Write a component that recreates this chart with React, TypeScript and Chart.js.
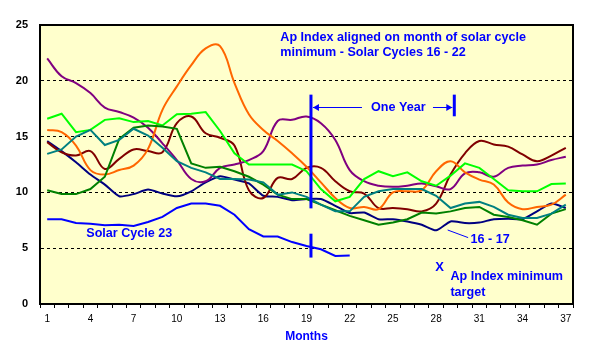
import React, { useEffect, useRef } from 'react';
import { Chart, registerables } from 'chart.js';

Chart.register(...registerables);

const months = ['1','2','3','4','5','6','7','8','9','10','11','12','13','14','15','16','17','18','19','20','21','22','23','24','25','26','27','28','29','30','31','32','33','34','35','36','37'];
const labelledMonths = ['1','4','7','10','13','16','19','22','25','28','31','34','37'];
const yTicks = [0, 5, 10, 15, 20, 25];

const cycle1617 = [14.6,13.7,12.7,11.6,10.7,9.65,9.85,10.25,9.9,9.65,10.1,10.9,11.45,11.15,10.8,9.7,9.6,9.3,9.4,9.4,8.8,8.15,8.2,7.6,7.6,7.4,7.1,6.6,7.4,7.25,7.3,7.6,7.65,7.6,8.3,9.0,8.6];
const seriesLime = [16.6,17.05,15.4,15.6,16.5,16.65,16.3,16.4,16.0,17.0,17.05,17.2,15.5,13.5,12.5,12.5,12.5,12.5,11.9,10.3,9.2,9.6,11.2,11.9,11.45,11.8,11.0,10.6,11.5,12.6,12.2,11.2,10.2,10.1,10.1,10.75,10.8];
const seriesOrange = [15.6,15.4,14.2,12.0,11.6,12.0,12.4,13.9,17.4,19.5,21.4,22.9,23.1,19.8,17.0,15.6,14.6,13.5,12.3,10.9,9.5,8.6,8.7,8.5,10.0,10.1,10.2,11.9,12.8,11.8,11.15,10.7,9.1,8.5,8.7,8.9,9.8];
const seriesPurple = [22.0,20.4,19.8,18.9,17.6,17.2,16.7,15.8,14.4,12.9,11.2,11.0,12.2,12.5,12.9,13.7,16.4,16.5,16.8,16.2,14.7,12.0,11.0,10.6,10.5,10.6,10.8,10.55,10.3,11.7,11.8,11.4,12.2,12.4,12.5,12.9,13.2];
const seriesMaroon = [14.5,13.6,13.3,13.7,12.1,13.0,13.85,13.7,13.6,16.2,16.8,15.3,14.9,14.2,10.2,9.5,11.3,11.2,12.2,12.2,11.0,10.1,9.9,8.6,8.6,8.5,8.3,9.0,11.6,13.5,14.6,14.3,14.1,13.4,12.8,13.3,14.0];
const seriesGreen = [10.2,9.85,9.85,10.3,11.4,14.8,15.8,16.0,15.9,15.7,12.6,12.2,12.3,11.9,11.4,10.7,9.8,9.4,9.4,8.9,8.4,7.9,7.5,7.1,7.3,7.6,8.2,8.1,8.3,8.6,8.7,8.0,7.8,7.5,7.1,8.1,8.5];
const seriesTeal = [13.45,13.85,15.0,15.6,14.25,14.7,15.7,15.1,14.0,12.8,12.2,11.8,11.2,11.2,11.15,10.9,9.8,10.0,9.6,8.9,8.3,8.3,9.6,10.1,10.3,10.3,10.3,9.7,8.6,9.0,9.15,8.7,8.0,7.7,7.7,8.1,8.9];
const cycle23 = [7.6,7.6,7.25,7.2,7.05,7.1,7.0,7.35,7.8,8.6,9.0,9.0,8.8,8.0,6.7,6.05,6.05,5.55,5.2,4.9,4.3,4.35];

const FONT = 'Arial, "Liberation Sans", sans-serif';
const BLUE = '#0000FF';

const overlay = {
  id: 'overlay',
  beforeDraw(chart: any) {
    const { ctx, chartArea: a } = chart;
    ctx.save();
    ctx.fillStyle = '#FFFFFF';
    ctx.fillRect(0, 0, chart.width, chart.height);
    ctx.fillStyle = '#FFFFCC';
    ctx.fillRect(a.left, a.top, a.right - a.left, a.bottom - a.top);
    ctx.restore();
  },
  afterDraw(chart: any) {
    const { ctx, chartArea: a, scales } = chart;
    const X = (m: number) => scales.x.getPixelForValue(m - 1);
    const Y = (v: number) => scales.y.getPixelForValue(v);
    const line = (x1: number, y1: number, x2: number, y2: number) => {
      ctx.beginPath();
      ctx.moveTo(x1, y1);
      ctx.lineTo(x2, y2);
      ctx.stroke();
    };
    ctx.save();
    ctx.strokeStyle = '#000';
    ctx.lineWidth = 2;
    ctx.strokeRect(a.left, a.top, a.right - a.left, a.bottom - a.top);

    ctx.strokeStyle = BLUE;
    ctx.fillStyle = BLUE;
    ctx.lineWidth = 3;
    const xl = X(19.31);
    const xr = X(29.26);
    line(xl, Y(18.76), xl, Y(8.57));
    line(xl, Y(6.3), xl, Y(4.16));
    line(xr, Y(18.76), xr, Y(16.82));
    ctx.lineWidth = 1;
    const ya = Math.round(Y(17.69)) + 0.5;
    line(xl + 2, ya, X(22.85), ya);
    line(X(27.78), ya, xr - 2, ya);
    ctx.beginPath();
    ctx.moveTo(xl + 2, ya);
    ctx.lineTo(xl + 8, ya - 3.5);
    ctx.lineTo(xl + 8, ya + 3.5);
    ctx.closePath();
    ctx.fill();
    ctx.beginPath();
    ctx.moveTo(xr - 2, ya);
    ctx.lineTo(xr - 8, ya - 3.5);
    ctx.lineTo(xr - 8, ya + 3.5);
    ctx.closePath();
    ctx.fill();
    line(X(28.8), Y(6.63), X(30.22), Y(5.95));

    ctx.font = 'bold 12.6px ' + FONT;
    ctx.textBaseline = 'middle';
    ctx.textAlign = 'left';
    ctx.fillText('Ap Index aligned on month of solar cycle', X(17.18), Y(23.86));
    ctx.fillText('minimum - Solar Cycles 16 - 22', X(17.18), Y(22.52));
    ctx.fillText('One Year', X(23.48), ya);
    ctx.fillText('Solar Cycle 23', X(3.71), Y(6.33));
    ctx.fillText('16 - 17', X(30.38), Y(5.8));
    ctx.fillText('Ap Index minimum', X(28.99), Y(2.49));
    ctx.fillText('target', X(28.99), Y(1.06));
    ctx.textAlign = 'center';
    ctx.font = 'bold 13px ' + FONT;
    ctx.fillText('X', X(28.24), Y(3.32));
    ctx.restore();
  },
};

export default function App() {
  const ref = useRef<HTMLCanvasElement | null>(null);
  useEffect(() => {
    if (!ref.current) return;
    const ds = (label: string, data: number[], color: string, tension: number) => ({
      label,
      data,
      borderColor: color,
      backgroundColor: color,
      borderWidth: 2,
      pointRadius: 0,
      fill: false,
      tension,
    });
    const chart = new Chart(ref.current, {
      type: 'line',
      data: {
        labels: months,
        datasets: [
          ds('Cycle A', seriesTeal, '#008080', 0),
          ds('Cycle B', seriesGreen, '#008000', 0),
          ds('Cycle C', seriesLime, '#00FF00', 0),
          ds('Cycle D', seriesOrange, '#FF6600', 0.4),
          ds('Cycle E', seriesPurple, '#800080', 0.4),
          ds('Cycle F', seriesMaroon, '#800000', 0.4),
          ds('16 - 17', cycle1617, '#000080', 0.2),
          ds('Solar Cycle 23', cycle23, '#0000FF', 0),
        ],
      },
      options: {
        responsive: false,
        animation: false,
        events: [],
        layout: { padding: { top: 25, right: 16, left: 0, bottom: 0 } },
        plugins: { legend: { display: false }, tooltip: { enabled: false } },
        scales: {
          x: {
            type: 'category',
            offset: true,
            afterFit: (s: any) => { s.height = 60; },
            grid: { display: true, drawOnChartArea: false, drawTicks: true, tickLength: 4, color: '#000', offset: true },
            border: { display: true, color: '#000', width: 2 },
            ticks: {
              autoSkip: false,
              maxRotation: 0,
              color: '#000',
              padding: 5,
              font: { family: FONT, size: 10 },
              callback: (_v: any, i: number) => (labelledMonths.includes(months[i]) ? months[i] : ''),
            },
            title: {
              display: true,
              text: 'Months',
              color: BLUE,
              font: { family: FONT, size: 12, weight: 'bold' },
              padding: { top: 0, bottom: 20 },
            },
          },
          y: {
            min: yTicks[0],
            max: yTicks[yTicks.length - 1],
            afterFit: (s: any) => { s.width = 40; },
            afterBuildTicks: (s: any) => { s.ticks = yTicks.map((v) => ({ value: v })); },
            grid: { color: '#000', lineWidth: 1, drawTicks: false },
            border: { display: true, color: '#000', width: 2, dash: [3, 3] },
            ticks: {
              color: '#000',
              padding: 12,
              font: { family: FONT, size: 11, weight: 'bold' },
            },
          },
        },
      },
      plugins: [overlay],
    } as any);
    return () => chart.destroy();
  }, []);
  return (
    <div style={{ position: 'absolute', left: 0, top: 0, width: 589, height: 364 }}>
      <canvas ref={ref} width={589} height={364} style={{ width: 589, height: 364 }} />
    </div>
  );
}
